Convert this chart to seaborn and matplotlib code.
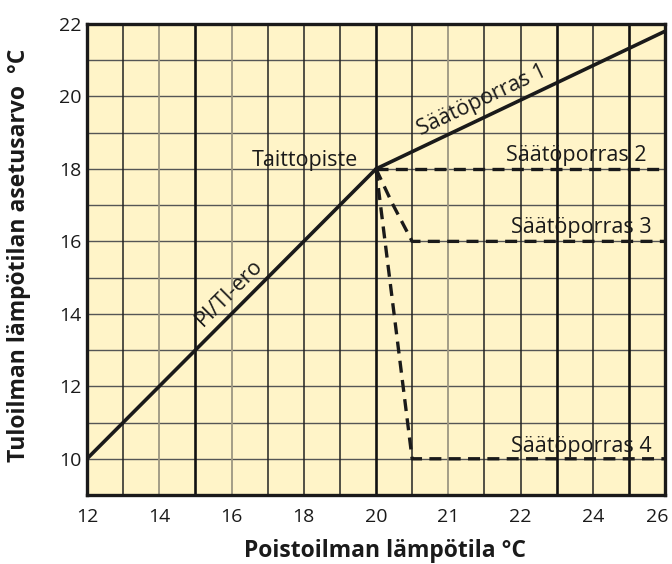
import matplotlib
matplotlib.use("Agg")
import matplotlib.pyplot as plt
import matplotlib.transforms as mtransforms
import seaborn as sns
import pandas as pd

# ---- data (x in grid columns; tick labels give the °C reading) ----
x_tick_pos = [0, 2, 4, 6, 8, 10, 12, 14, 16]
x_tick_labels = ["12", "14", "16", "18", "20", "21", "22", "24", "26"]
y_ticks = [10, 12, 14, 16, 18, 20, 22]

pi_ti_x = [0, 8]
pi_ti_y = [10, 18]
step1_x = [8, 16]
step1_y = [18, 21.8]
step2_x = [8, 16]
step2_y = [18, 18]
step3_x = [8, 8.45, 9, 16]
step3_y = [18, 17.05, 16, 16]
step4_x = [8, 9, 16]
step4_y = [18, 10, 10]

sns.set_theme(style="white")
plt.rcParams["font.family"] = ["Open Sans", "DejaVu Sans"]

fig = plt.figure(figsize=(6.72, 5.64), dpi=100)
ax = fig.add_axes([87/672, 1-495/564, (665-87)/672, (495-24)/564])
ax.set_facecolor("#FFF4C8")
ax.set_xlim(0, 16)
ax.set_ylim(9, 22)

# grid
for yv in range(9, 23):
    ax.axhline(yv, color="#555555", lw=1.0, zorder=1)
thick = [3, 8, 13, 15]
gray = [2, 4, 10]
for xv in range(0, 17):
    if xv in thick:
        ax.axvline(xv, color="#111111", lw=1.9, zorder=1.2)
    elif xv in gray:
        ax.axvline(xv, color="#9c9682", lw=1.3, zorder=1.1)
    else:
        ax.axvline(xv, color="#222222", lw=1.1, zorder=1.1)

dash = (0, (3.6, 2.2))
sns.lineplot(x=pi_ti_x, y=pi_ti_y, ax=ax, color="#1a1a1a", lw=2.6, zorder=3)
sns.lineplot(x=step1_x, y=step1_y, ax=ax, color="#1a1a1a", lw=2.6, zorder=3)
for xs, ys in [(step2_x, step2_y), (step3_x, step3_y), (step4_x, step4_y)]:
    sns.lineplot(x=xs, y=ys, ax=ax, color="#1a1a1a", lw=2.4, linestyle=dash,
                 sort=False, estimator=None, zorder=3)

fs = 15.5
tc = "#1a1a1a"
ax.text(7.5, 18.08, "Taittopiste", ha="right", va="baseline", fontsize=fs, color=tc, zorder=4)
ax.text(15.5, 18.22, "Säätöporras 2", ha="right", va="baseline", fontsize=fs, color=tc, zorder=4)
ax.text(15.64, 16.24, "Säätöporras 3", ha="right", va="baseline", fontsize=fs, color=tc, zorder=4)
ax.text(15.64, 10.19, "Säätöporras 4", ha="right", va="baseline", fontsize=fs, color=tc, zorder=4)
ax.text(10.93, 19.9, "Säätöporras 1", ha="center", va="center", rotation=25.4,
        rotation_mode="anchor", fontsize=fs, color=tc, zorder=4)
ax.text(3.93, 14.58, "PI/TI-ero", ha="center", va="center", rotation=45,
        rotation_mode="anchor", fontsize=fs, color=tc, zorder=4)

ax.set_xticks(x_tick_pos)
ax.set_xticklabels(x_tick_labels)
ax.set_yticks(y_ticks)
ax.tick_params(axis="both", length=0, labelsize=14, colors=tc)
ax.tick_params(axis="x", pad=9)
ax.tick_params(axis="y", pad=4)
last = ax.get_xticklabels()[-1]
last.set_transform(last.get_transform() + mtransforms.ScaledTranslation(-7.5/100, 0, fig.dpi_scale_trans))
for s in ax.spines.values():
    s.set_color("#1a1a1a")
    s.set_linewidth(2.4)
    s.set_zorder(5)

ax.set_xlabel("Poistoilman lämpötila °C", fontsize=16.5, fontweight="bold", color=tc)
ax.set_ylabel("Tuloilman lämpötilan asetusarvo  °C", fontsize=16.5, fontweight="bold", color=tc)
ax.xaxis.set_label_coords(0.515, -0.093)
ax.yaxis.set_label_coords(-0.097, 0.508)

fig.savefig("out.png", dpi=100)
